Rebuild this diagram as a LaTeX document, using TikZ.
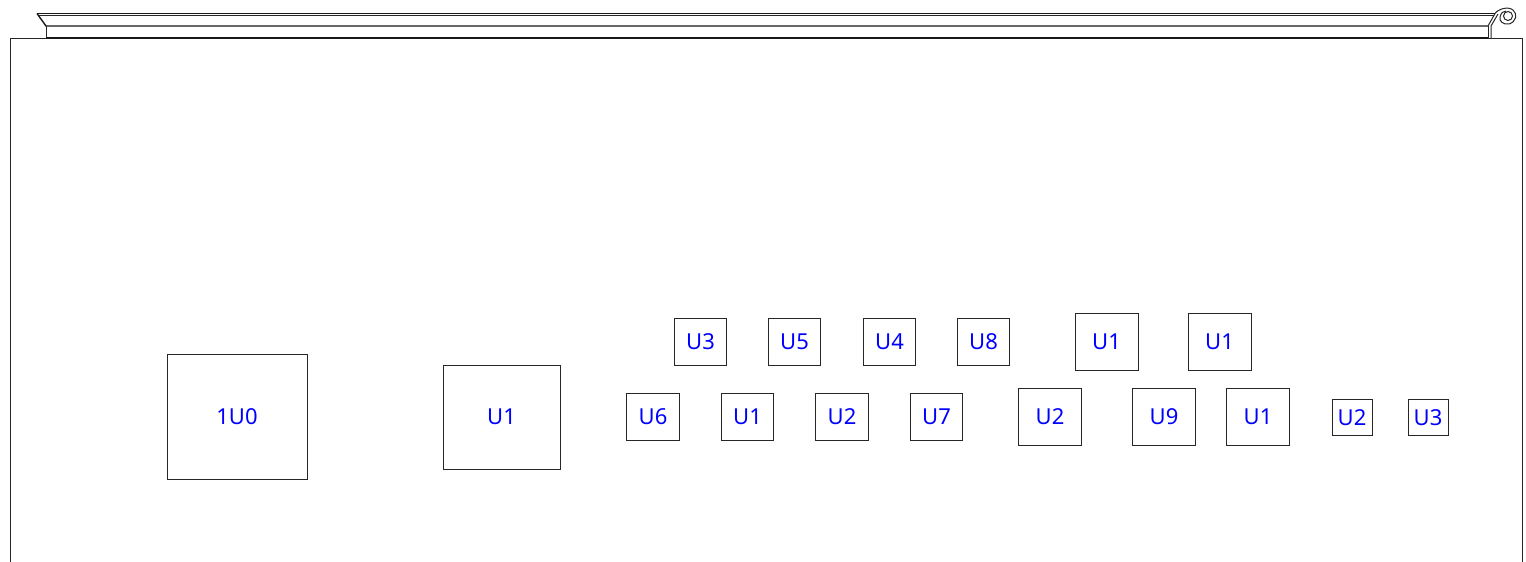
\documentclass[tikz,border=0pt]{standalone}
\usepackage{fontspec}
\setmainfont{Noto Sans}
\definecolor{reftext}{RGB}{0,0,255}
\tikzset{
    every part/.style = {draw=black!85, inner sep=0pt, outer sep=0pt, line width=0.5pt, text=reftext, font=\fontsize{11}{13}\selectfont},
    part small/.style = {every part, minimum width=20pt, minimum height=18pt},
    part mid/.style = {every part, minimum width=26.3pt, minimum height=23.7pt},
    part big/.style = {every part, minimum width=31.5pt, minimum height=28.5pt},
    outline/.style = {draw=black!85, line width=0.5pt},
    lid/.style = {draw=black!90, line width=0.7pt},
}

\begin{document}
\begin{tikzpicture}[x=0.5pt, y=-0.5pt]
    \useasboundingbox (0,0) rectangle (1526,562);

    % panel
    \draw[outline] (10,562) -- (10,38) -- (1522,38) -- (1522,562);

    % lid
    \draw[lid] (37,13.5) -- (1495,13.5);
    \draw[outline] (38,15.5) -- (1494,15.5);
    \draw[lid] (37,13.5) -- (46,26) -- (1488,26);
    \draw[outline] (46,26) -- (46,38);
    \draw[lid] (46,38) -- (1488,38);
    \draw[outline] (1488,26) -- (1488,38);
    \draw[outline] (1491,38) -- (1491,26) -- (1498,14);
    \draw[outline] (1488,26) -- (1495,13.5);

    % hinge
    \coordinate (hinge) at (1508,16);
    \draw[outline] (1495,13.5) .. controls (1498,9) and (1508,6) .. (1513,10)
        .. controls (1518,14) and (1516,22) .. (1509,24)
        .. controls (1503,25) and (1499,21) .. (1500,17)
        .. controls (1501,13) and (1503,11) .. (1506,11);
    \draw[outline] (hinge) circle [radius=4.5];

    % big parts
    \node[every part, minimum width=70pt, minimum height=62.5pt] (oneuzero) at (237,416.5) {1U0};
    \node[every part, minimum width=58.5pt, minimum height=52pt] (uone) at (501.5,417) {U1};

    % upper row
    \node[part mid] (uthree) at (700.5,342) {U3};
    \node[part mid] (ufive) at (794.5,342) {U5};
    \node[part mid] (ufour) at (889.5,342) {U4};
    \node[part mid] (ueight) at (983.5,342) {U8};
    \node[part big] (uoneb) at (1106.5,342) {U1};
    \node[part big] (uonec) at (1219.5,342) {U1};

    % lower row
    \node[part mid] (usix) at (653,417) {U6};
    \node[part mid] (uoned) at (747.5,417) {U1};
    \node[part mid] (utwo) at (842,417) {U2};
    \node[part mid] (useven) at (936.5,417) {U7};
    \node[part big] (utwob) at (1050,417) {U2};
    \node[part big] (unine) at (1164,417) {U9};
    \node[part big] (uonee) at (1258,417) {U1};
    \node[part small] (utwoc) at (1352,417.5) {U2};
    \node[part small] (uthreeb) at (1428,417.5) {U3};
\end{tikzpicture}
\end{document}
